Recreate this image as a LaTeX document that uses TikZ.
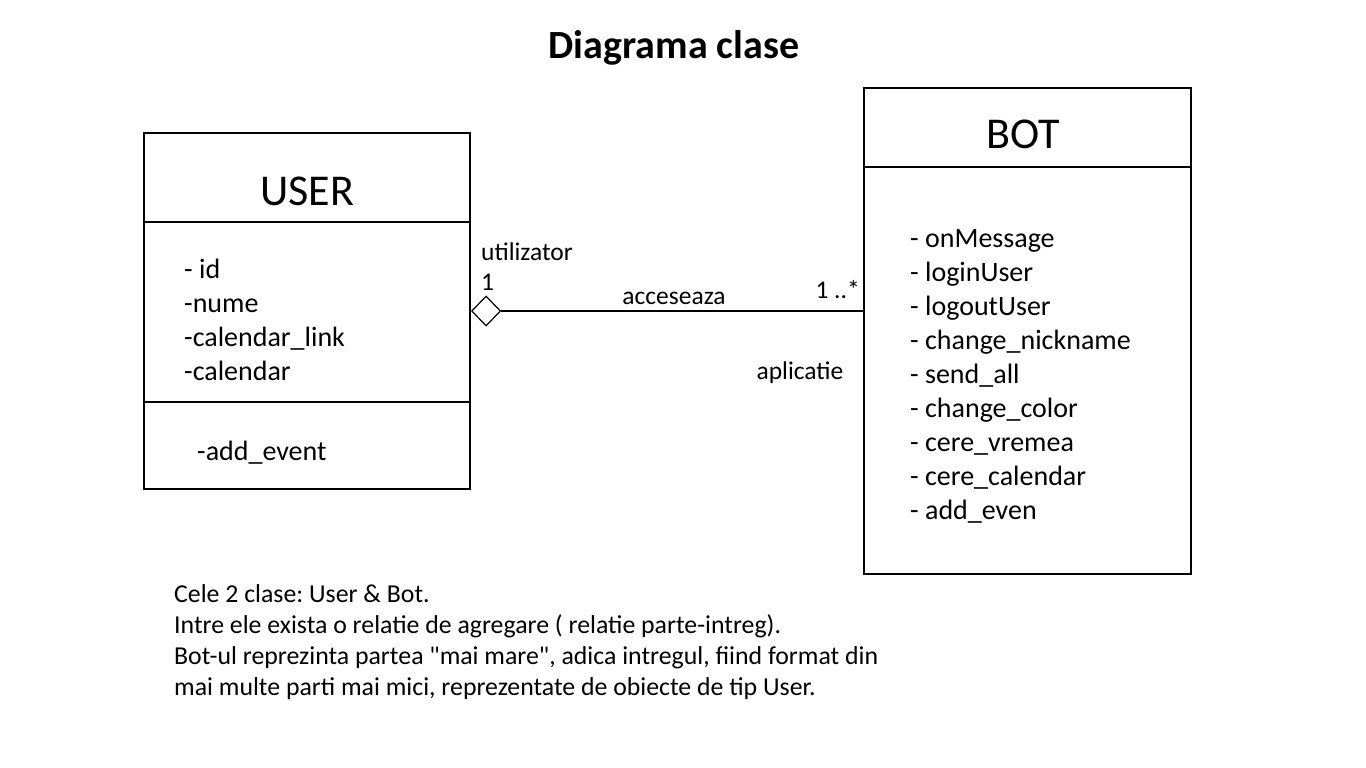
\documentclass[tikz,border=0pt]{standalone}
\usepackage{fontspec}
\setmainfont{Carlito}[Ligatures=TeXOff]
\usetikzlibrary{shapes.geometric}
\begin{document}
\frenchspacing
\begin{tikzpicture}[x=1pt,y=-1pt,
  box/.style={draw=black,line width=1.2pt},
  lbl/.style={inner sep=0pt,font=\fontsize{25.5}{30}\selectfont},
  lst/.style={inner sep=0pt,align=left,anchor=north west,font=\fontsize{28}{34}\selectfont},
  big/.style={inner sep=0pt,font=\fontsize{44}{50}\selectfont}]
\useasboundingbox[fill=white] (0,0) rectangle (1366,768);
\node[inner sep=0pt,font=\bfseries\fontsize{40}{46}\selectfont] (title) at (674,48) {Diagrama clase};
% USER
\draw[box] (144,133) rectangle (470,489);
\draw[box] (144,222) -- (470,222);
\draw[box] (144,402) -- (470,402);
\node[big] (usern) at (307,191) {USER};
\node[lst] (userattr) at (184,259) {- id\\-nume\\-calendar\_link\\-calendar};
\node[lst] (userop) at (197,441) {-add\_event};
% BOT
\draw[box] (864,88) rectangle (1191,574);
\draw[box] (864,167) -- (1191,167);
\coordinate (botW) at (864,311);
\node[big] (botn) at (1023,134) {BOT};
\node[lst] (botops) at (910,229) {- onMessage\\- loginUser\\- logoutUser\\- change\_nickname\\- send\_all\\- change\_color\\- cere\_vremea\\- cere\_calendar\\- add\_even};
% association
\node[diamond,draw=black,line width=1.2pt,fill=white,minimum width=29pt,minimum height=30pt,inner sep=0pt,anchor=west] (dia) at (471,311) {};
\draw[line width=1.2pt] (dia.east) -- (botW);
\node[lbl,anchor=west] (ut) at (481,252) {utilizator};
\node[lbl,anchor=west] (one) at (481,282) {1};
\node[lbl] (acc) at (674,298) {acceseaza};
\node[lbl,anchor=east] (many) at (860,290) {1 ..*};
\node[lbl] (apl) at (800,373) {aplicatie};
% note
\node[inner sep=0pt,align=left,anchor=north west,font=\fontsize{25.8}{31.2}\selectfont] (note) at (174,584) {Cele 2 clase: User \& Bot.\\Intre ele exista o relatie de agregare ( relatie parte-intreg).\\Bot-ul reprezinta partea "mai mare", adica intregul, fiind format din\\mai multe parti mai mici, reprezentate de obiecte de tip User.};
\end{tikzpicture}
\end{document}
